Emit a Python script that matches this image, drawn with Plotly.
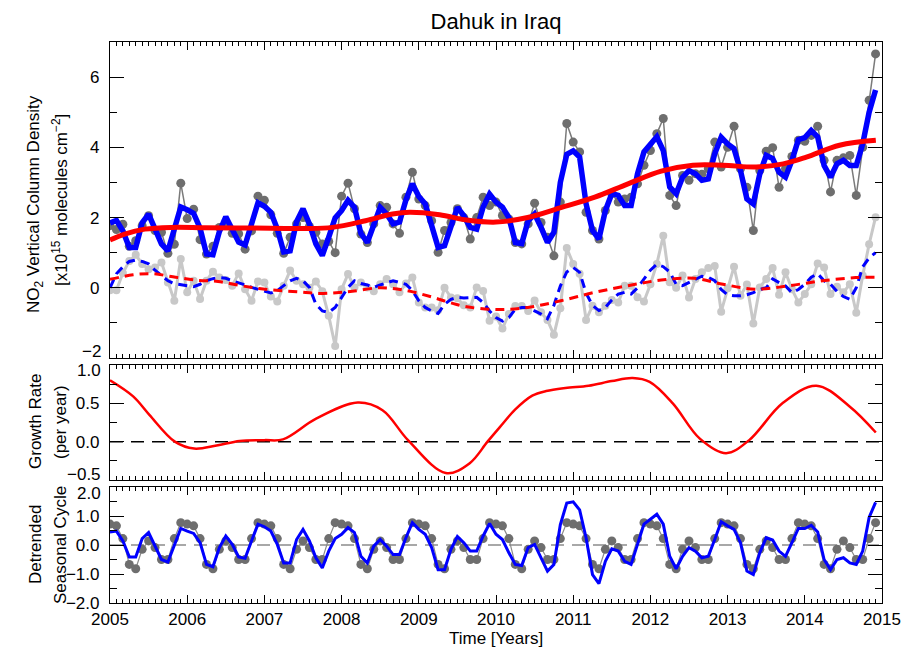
import plotly.graph_objects as go

# ---------------- data ----------------
months = [2005 + m / 12 for m in range(120)]

vcd_obs = [1.77, 1.66, 1.81, 1.18, 1.34, 1.77, 2.05, 1.63, 1.58, 0.98, 1.24, 2.98,
           1.97, 2.24, 1.37, 0.96, 1.18, 1.72, 1.86, 1.55, 1.54, 1.10, 1.62, 2.61,
           2.49, 2.08, 1.55, 0.98, 1.44, 1.82, 2.00, 1.75, 1.58, 1.25, 1.32, 1.00,
           2.61, 2.98, 2.25, 1.53, 1.29, 1.82, 2.34, 2.29, 1.82, 1.55, 2.58, 3.29,
           2.53, 2.34, 1.91, 1.01, 1.63, 1.86, 2.25, 2.00, 1.39, 2.00, 2.58, 2.34,
           2.44, 2.06, 1.96, 1.29, 1.25, 1.82, 2.41, 1.86, 1.44, 0.91, 2.44, 4.68,
           4.15, 3.87, 2.15, 1.63, 1.39, 2.20, 2.68, 2.44, 2.53, 2.58, 2.96, 3.49,
           3.91, 4.39, 4.82, 2.63, 2.34, 3.20, 3.06, 3.25, 3.23, 3.39, 4.15, 3.44,
           4.00, 4.60, 3.39, 2.86, 1.63, 3.34, 3.89, 3.99, 2.86, 3.39, 3.74, 4.20,
           4.17, 4.34, 4.60, 3.63, 2.73, 3.63, 3.70, 3.77, 2.63, 4.00, 5.34, 6.66]

vcd_fit = [1.85, 1.92, 1.62, 1.15, 1.15, 1.85, 2.10, 1.65, 1.25, 1.05, 1.70, 2.30,
           2.22, 2.12, 1.70, 0.96, 0.94, 1.60, 2.02, 1.68, 1.30, 1.22, 1.85, 2.42,
           2.32, 2.15, 1.68, 1.02, 1.05, 1.88, 2.25, 1.82, 1.25, 0.92, 1.44, 1.99,
           2.20, 2.49, 2.29, 1.55, 1.29, 1.82, 2.29, 2.10, 1.82, 1.87, 2.50, 2.96,
           2.60, 2.39, 1.82, 1.15, 1.20, 1.77, 2.29, 2.05, 1.72, 1.67, 2.30, 2.67,
           2.44, 2.30, 2.00, 1.29, 1.26, 1.91, 2.10, 1.72, 1.29, 1.58, 3.00, 3.80,
           3.90, 3.72, 2.39, 1.63, 1.39, 2.20, 2.68, 2.63, 2.34, 2.34, 3.25, 3.87,
           4.06, 4.30, 3.91, 2.87, 2.68, 3.15, 3.34, 3.25, 3.06, 3.10, 3.82, 4.29,
           4.10, 3.96, 3.34, 2.53, 2.39, 3.24, 3.77, 3.68, 3.29, 3.15, 3.63, 4.22,
           4.28, 4.48, 4.30, 3.48, 3.15, 3.53, 3.63, 3.48, 3.48, 4.10, 5.00, 5.63]

trend_years = [2005.0, 2005.19, 2005.45, 2005.8, 2006.23, 2006.87, 2007.5, 2007.88,
               2008.31, 2008.66, 2008.88, 2009.27, 2009.62, 2010.0, 2010.41, 2010.84,
               2011.28, 2011.71, 2012.14, 2012.55, 2012.94, 2013.37, 2013.72, 2014.02,
               2014.45, 2014.92]
trend_vals = [1.36, 1.53, 1.67, 1.72, 1.71, 1.70, 1.69, 1.72,
              1.91, 2.10, 2.15, 2.08, 1.93, 1.87, 2.00, 2.28,
              2.58, 2.96, 3.32, 3.49, 3.49, 3.44, 3.53, 3.72,
              4.06, 4.20]

anomaly = [-0.07, -0.07, 0.42, 0.76, 0.94, 0.68, 0.53, 0.58, 0.72, 0.15, -0.37, 0.82,
           -0.13, 0.20, -0.32, 0.20, 0.46, 0.29, 0.22, 0.06, 0.41, -0.04, -0.37, 0.18,
           0.15, -0.25, -0.39, 0.06, 0.49, 0.20, 0.10, 0.00, 0.18, -0.10, -0.80, -1.66,
           -0.04, 0.39, 0.01, 0.15, 0.01, -0.10, 0.10, 0.25, 0.10, -0.13, 0.12, 0.29,
           -0.42, -0.56, -0.56, -0.64, 0.00, -0.28, -0.30, -0.50, -0.56, 0.01, -0.09, -0.94,
           -0.82, -1.16, -0.75, -0.52, -0.52, -0.66, -0.36, -0.70, -0.92, -1.34, -0.58, 1.13,
           0.68, 0.40, -0.92, -0.51, -0.70, -0.51, -0.35, -0.42, 0.06, 0.06, -0.27, -0.39,
           0.10, 0.68, 1.48, 0.16, 0.00, 0.35, -0.28, 0.25, 0.44, 0.56, 0.62, -0.68,
           -0.01, 0.60, -0.23, 0.09, -1.02, 0.01, 0.25, 0.56, -0.20, 0.44, -0.04, -0.42,
           -0.18, 0.10, 0.69, 0.58, -0.18, 0.03, -0.13, 0.10, -0.71, 0.35, 1.24, 2.01]

anomaly_smooth = [0.00, 0.40, 0.60, 0.75, 0.79, 0.75, 0.68, 0.50, 0.35, 0.20, 0.12, 0.08,
                  0.06, 0.03, 0.10, 0.20, 0.26, 0.29, 0.27, 0.20, 0.15, 0.08, 0.01, -0.05,
                  -0.10, -0.15, -0.08, 0.05, 0.20, 0.27, 0.20, 0.01, -0.47, -0.66, -0.70, -0.56,
                  -0.27, 0.01, 0.20, 0.12, 0.08, 0.01, 0.08, 0.15, 0.20, 0.15, 0.10, -0.08,
                  -0.37, -0.56, -0.66, -0.73, -0.47, -0.33, -0.27, -0.29, -0.28, -0.27, -0.42, -0.66,
                  -0.85, -0.95, -0.85, -0.61, -0.56, -0.56, -0.66, -0.75, -0.88, -0.50, 0.05, 0.45,
                  0.58, 0.44, -0.15, -0.50, -0.65, -0.56, -0.35, -0.18, -0.13, -0.18, 0.00, 0.25,
                  0.50, 0.67, 0.60, 0.45, 0.10, 0.06, 0.15, 0.25, 0.33, 0.30, 0.20, -0.05,
                  -0.20, -0.23, -0.23, -0.20, -0.14, -0.05, 0.00, 0.25, 0.15, 0.05, -0.14, -0.05,
                  0.10, 0.30, 0.40, 0.20, 0.10, -0.10, -0.25, -0.33, 0.00, 0.60, 0.85, 1.00]

lowfreq_years = [2005.0, 2005.3, 2005.55, 2005.85, 2006.15, 2006.4, 2006.67, 2006.93,
                 2007.19, 2007.45, 2007.7, 2007.93, 2008.14, 2008.5, 2008.84, 2009.18,
                 2009.4, 2009.62, 2010.0, 2010.41, 2010.84, 2011.28, 2011.71, 2012.14,
                 2012.57, 2012.94, 2013.37, 2013.8, 2014.23, 2014.66, 2014.92]
lowfreq_vals = [0.24, 0.37, 0.40, 0.30, 0.21, 0.18, 0.07, -0.02,
                -0.08, -0.12, -0.16, -0.14, -0.10, 0.00, -0.08, -0.27,
                -0.42, -0.54, -0.62, -0.56, -0.37, -0.13, 0.06, 0.22,
                0.27, 0.10, -0.04, 0.06, 0.20, 0.29, 0.30]

growth_years = [2005.0, 2005.30, 2005.51, 2005.84, 2006.09, 2006.38, 2006.68, 2007.0,
                2007.24, 2007.67, 2008.21, 2008.53, 2008.86, 2009.35, 2009.66, 2009.89,
                2010.05, 2010.25, 2010.47, 2010.65, 2010.9, 2011.2, 2011.5,
                2011.77, 2011.99, 2012.29, 2012.64, 2012.98, 2013.28, 2013.71, 2014.15,
                2014.58, 2014.92]
growth_vals = [0.80, 0.59, 0.35, 0.00, -0.09, -0.05, 0.01, 0.02,
               0.03, 0.30, 0.51, 0.41, 0.02, -0.41, -0.28, 0.00,
               0.19, 0.42, 0.60, 0.66, 0.70, 0.73, 0.79,
               0.83, 0.78, 0.50, 0.04, -0.15, 0.02, 0.50, 0.73,
               0.46, 0.12]

seasonal_obs = [0.72, 0.66, 0.22, -0.67, -0.82, -0.15, 0.14, -0.09, -0.50, -0.50, 0.22, 0.77,
                0.72, 0.66, 0.22, -0.67, -0.82, -0.15, 0.14, -0.09, -0.50, -0.50, 0.22, 0.77,
                0.72, 0.66, 0.22, -0.67, -0.82, -0.15, 0.14, -0.09, -0.50, -0.50, 0.22, 0.77,
                0.72, 0.66, 0.22, -0.67, -0.82, -0.15, 0.14, -0.09, -0.50, -0.50, 0.22, 0.77,
                0.72, 0.66, 0.22, -0.67, -0.82, -0.15, 0.14, -0.09, -0.50, -0.50, 0.22, 0.77,
                0.72, 0.66, 0.22, -0.67, -0.82, -0.15, 0.14, -0.09, -0.50, -0.50, 0.22, 0.77,
                0.72, 0.66, 0.22, -0.67, -0.82, -0.15, 0.14, -0.09, -0.50, -0.50, 0.22, 0.77,
                0.72, 0.66, 0.22, -0.67, -0.82, -0.15, 0.14, -0.09, -0.50, -0.50, 0.22, 0.77,
                0.72, 0.66, 0.22, -0.67, -0.82, -0.15, 0.14, -0.09, -0.50, -0.50, 0.22, 0.77,
                0.72, 0.66, 0.22, -0.67, -0.82, -0.15, 0.14, -0.09, -0.50, -0.50, 0.22, 0.77]

seasonal_fit = [0.45, 0.48, 0.14, -0.41, -0.41, 0.22, 0.43, -0.04, -0.50, -0.59, 0.02, 0.57,
                0.48, 0.40, 0.08, -0.67, -0.75, -0.09, 0.31, 0.02, -0.41, -0.46, 0.14, 0.72,
                0.63, 0.48, 0.02, -0.62, -0.62, 0.19, 0.54, 0.14, -0.44, -0.79, -0.21, 0.22,
                0.37, 0.60, 0.43, -0.39, -0.62, -0.04, 0.19, -0.04, -0.33, -0.33, 0.25, 0.77,
                0.54, 0.37, -0.09, -0.85, -0.85, -0.15, 0.29, 0.08, -0.21, -0.21, 0.31, 0.74,
                0.37, 0.19, -0.27, -0.67, -0.71, -0.09, 0.02, -0.44, -0.90, -0.67, 0.70, 1.45,
                1.49, 1.21, 0.25, -1.02, -1.33, -0.56, -0.13, -0.21, -0.56, -0.67, 0.02, 0.72,
                0.89, 1.06, 0.72, -0.39, -0.82, -0.39, -0.09, -0.21, -0.44, -0.39, 0.19, 0.80,
                0.66, 0.54, 0.08, -0.90, -1.02, -0.27, 0.25, 0.17, -0.21, -0.39, 0.08, 0.57,
                0.57, 0.68, 0.45, -0.50, -0.85, -0.50, -0.44, -0.62, -0.67, -0.21, 0.95, 1.47]

year_ticks = list(range(2005, 2016))
top_ticks = [-2, 0, 2, 4, 6]
top_labels = ["", "0", "2", "4", "6"]
mid_ticks = [-0.5, 0.0, 0.5, 1.0]
mid_labels = ["", "0.0", "0.5", ""]
bot_ticks = [-2.0, -1.0, 0.0, 1.0, 2.0]
bot_labels = ["−2.0", "−1.0", "0.0", "1.0", ""]
# edge labels placed next to the frame corners (text, pixel y)
edge_labels = [("−2", 351), ("1.0", 370), ("−0.5", 474), ("2.0", 493)]

# ---------------- styling ----------------
FONT = "Liberation Sans, Arial, Helvetica, sans-serif"
FS = 17
L, R, T, B = 110, 23, 42, 47
W, H = 905, 650
PH = H - T - B
DOM_TOP = [(H - B - 358) / PH, 1.0]
DOM_MID = [(H - B - 480) / PH, (H - B - 365) / PH]
DOM_BOT = [0.0, (H - B - 487) / PH]

fig = go.Figure()

# top panel
fig.add_trace(go.Scatter(x=months, y=anomaly, mode="lines+markers",
                         line=dict(color="#c8c8c8", width=3),
                         marker=dict(color="#c8c8c8", size=8),
                         xaxis="x", yaxis="y", showlegend=False))
fig.add_trace(go.Scatter(x=months, y=anomaly_smooth, mode="lines",
                         line=dict(color="#0000ff", width=3, dash="9px,6px"),
                         xaxis="x", yaxis="y", showlegend=False))
fig.add_trace(go.Scatter(x=lowfreq_years, y=lowfreq_vals, mode="lines",
                         line=dict(color="#ff0000", width=3, dash="9px,6px", shape="spline"),
                         xaxis="x", yaxis="y", showlegend=False))
fig.add_trace(go.Scatter(x=months, y=vcd_obs, mode="lines+markers",
                         line=dict(color="#7a7a7a", width=1.5),
                         marker=dict(color="#6e6e6e", size=9),
                         xaxis="x", yaxis="y", showlegend=False))
fig.add_trace(go.Scatter(x=months, y=vcd_fit, mode="lines",
                         line=dict(color="#0000ff", width=5.5),
                         xaxis="x", yaxis="y", showlegend=False))
fig.add_trace(go.Scatter(x=trend_years, y=trend_vals, mode="lines",
                         line=dict(color="#ff0000", width=5, shape="spline"),
                         xaxis="x", yaxis="y", showlegend=False))

# middle panel
fig.add_trace(go.Scatter(x=growth_years, y=growth_vals, mode="lines",
                         line=dict(color="#ff0000", width=2.5, shape="spline", smoothing=1.0),
                         xaxis="x2", yaxis="y2", showlegend=False))

# bottom panel
fig.add_trace(go.Scatter(x=months, y=seasonal_obs, mode="lines+markers",
                         line=dict(color="#8a8a8a", width=1.2),
                         marker=dict(color="#6e6e6e", size=9),
                         xaxis="x3", yaxis="y3", showlegend=False))
fig.add_trace(go.Scatter(x=months, y=seasonal_fit, mode="lines",
                         line=dict(color="#0000ff", width=3),
                         xaxis="x3", yaxis="y3", showlegend=False))

# zero lines
fig.add_shape(type="line", xref="x2 domain", yref="y2", x0=0, x1=1, y0=0, y1=0,
              line=dict(color="black", width=1.5, dash="13px,8px"), layer="below")
fig.add_shape(type="line", xref="x3 domain", yref="y3", x0=0, x1=1, y0=0, y1=0,
              line=dict(color="#8c8c8c", width=1.5, dash="13px,8px"), layer="below")


def xaxis(anchor, labels):
    return dict(anchor=anchor, domain=[0, 1], range=[2005, 2015], automargin=False,
                tickmode="array", tickvals=year_ticks, ticktext=[str(y) for y in year_ticks],
                showticklabels=labels, ticks="inside", ticklen=8, tickwidth=1, tickcolor="black",
                minor=dict(ticks="inside", ticklen=4, dtick=1 / 12, tick0=2005,
                           tickcolor="black", tickwidth=1, showgrid=False),
                mirror="ticks", showline=True, linecolor="black", linewidth=1.2,
                showgrid=False, zeroline=False,
                tickfont=dict(family=FONT, size=FS, color="black"))


def yaxis(anchor, dom, rng, tickvals, ticktext, mdtick):
    return dict(anchor=anchor, domain=dom, range=rng, automargin=False,
                tickmode="array", tickvals=tickvals, ticktext=ticktext,
                ticks="inside", ticklen=14, tickwidth=1, tickcolor="black",
                minor=dict(ticks="inside", ticklen=7, dtick=mdtick, tick0=0,
                           tickcolor="black", tickwidth=1, showgrid=False),
                mirror="ticks", showline=True, linecolor="black", linewidth=1.2,
                showgrid=False, zeroline=False, ticklabelstandoff=6,
                tickfont=dict(family=FONT, size=FS, color="black"))


fig.update_layout(
    width=W, height=H,
    margin=dict(l=L, r=R, t=T, b=B, autoexpand=False),
    paper_bgcolor="white", plot_bgcolor="white",
    font=dict(family=FONT, size=FS, color="black"),
    title=dict(text="Dahuk in Iraq", x=0.5, xref="paper", y=1 - 21 / H, yref="container",
               xanchor="center", yanchor="middle", automargin=False,
               font=dict(family=FONT, size=22, color="black")),
    xaxis=xaxis("y", False),
    xaxis2=xaxis("y2", False),
    xaxis3=xaxis("y3", True),
    yaxis=yaxis("x", DOM_TOP, [-2, 7], top_ticks, top_labels, 1),
    yaxis2=yaxis("x2", DOM_MID, [-0.5, 1.0], mid_ticks, mid_labels, 0.25),
    yaxis3=yaxis("x3", DOM_BOT, [-2.0, 2.0], bot_ticks, bot_labels, 0.5),
)


def py(pix):
    return (H - B - pix) / PH


def px(pix):
    return (pix - L) / (W - L - R)


ann = [
    ("NO<sub>2</sub> Vertical Column Density", 35, 204),
    ("[x10<sup>15</sup> molecules cm<sup>−2</sup>]", 60, 200),
    ("Growth Rate", 35, 422),
    ("(per year)", 60, 422),
    ("Detrended", 35, 545),
    ("Seasonal Cycle", 60, 545),
]
for text, xx, yy in ann:
    fig.add_annotation(text=text, xref="paper", yref="paper", x=px(xx), y=py(yy),
                       xanchor="center", yanchor="middle", textangle=-90, showarrow=False,
                       font=dict(family=FONT, size=FS, color="black"))

for text, yy in edge_labels:
    fig.add_annotation(text=text, xref="paper", yref="paper", x=px(102), y=py(yy),
                       xanchor="right", yanchor="middle", showarrow=False, borderpad=0,
                       font=dict(family=FONT, size=FS, color="black"))

fig.add_annotation(text="Time [Years]", xref="paper", yref="paper", x=px(496), y=py(638),
                   xanchor="center", yanchor="middle", showarrow=False,
                   font=dict(family=FONT, size=FS, color="black"))

# remove the browser's default 8px page margin so the figure sits at the window origin
fig.write_html("out.html", config={"displayModeBar": False},
               post_script="document.body.style.margin='0';document.body.style.overflow='hidden';")
